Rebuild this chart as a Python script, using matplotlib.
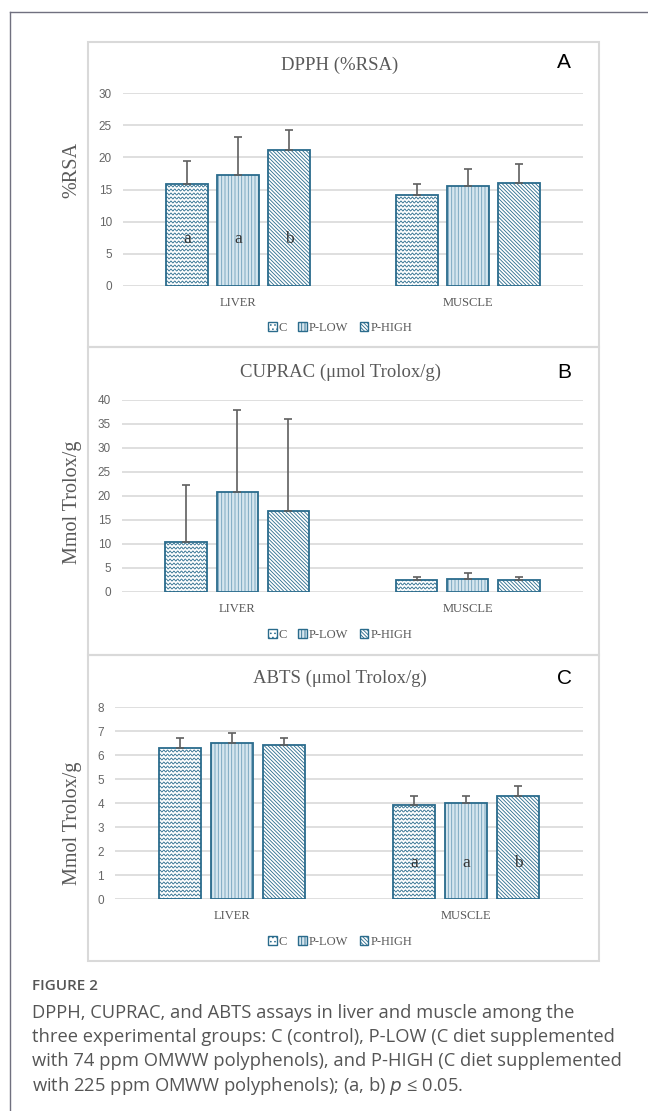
import numpy as np
import matplotlib
matplotlib.use('Agg')
import matplotlib.pyplot as plt
from matplotlib.patches import Rectangle, Patch
from matplotlib.lines import Line2D

W, H = 648, 1111

categories = ['LIVER', 'MUSCLE']
groups = ['C', 'P-LOW', 'P-HIGH']

# values per group (rows: C, P-LOW, P-HIGH), columns: LIVER, MUSCLE
dpph_means = [[15.8, 14.1], [17.2, 15.6], [21.1, 16.0]]
dpph_errs = [[3.6, 1.7], [6.0, 2.6], [3.1, 2.9]]
dpph_letters = [['a', ''], ['a', ''], ['b', '']]
dpph_ticks = [0, 5, 10, 15, 20, 25, 30]

cuprac_means = [[10.4, 2.4], [20.9, 2.8], [16.8, 2.4]]
cuprac_errs = [[11.9, 0.65], [17.0, 1.15], [19.2, 0.65]]
cuprac_letters = [['', ''], ['', ''], ['', '']]
cuprac_ticks = [0, 5, 10, 15, 20, 25, 30, 35, 40]

abts_means = [[6.3, 3.9], [6.5, 4.0], [6.4, 4.3]]
abts_errs = [[0.4, 0.4], [0.4, 0.3], [0.3, 0.4]]
abts_letters = [['', 'a'], ['', 'a'], ['', 'b']]
abts_ticks = [0, 1, 2, 3, 4, 5, 6, 7, 8]

titles = ['DPPH (%RSA)', 'CUPRAC (μmol Trolox/g)', 'ABTS (μmol Trolox/g)']
ylabels = ['%RSA', 'Mmol Trolox/g', 'Mmol Trolox/g']
panel_tags = ['A', 'B', 'C']

caption_head = 'FIGURE 2'
caption_lines = [
    'DPPH, CUPRAC, and ABTS assays in liver and muscle among the',
    'three experimental groups: C (control), P-LOW (C diet supplemented',
    'with 74 ppm OMWW polyphenols), and P-HIGH (C diet supplemented',
]
caption_last = 'with 225 ppm OMWW polyphenols); (a, b) $\\mathit{p}$ ≤ 0.05.'

TEAL = '#2a6b8c'
GRAY = '#595959'
GRID = '#d9d9d9'
SERIF = 'Liberation Serif'

plt.rcParams['hatch.linewidth'] = 0.6

fig = plt.figure(figsize=(W / 100, H / 100), dpi=100)
fig.patch.set_facecolor('white')

# outer frame (top and left)
fig.add_artist(Line2D([10 / W, 1.0], [1 - 12 / H, 1 - 12 / H], color='#70707f', lw=1.0))
fig.add_artist(Line2D([10 / W, 10 / W], [1 - 12 / H, 0.0], color='#70707f', lw=1.0))

layouts = [
    dict(box=(42, 347), left=123, y0=286, ytop=93, title=65, tag=63, leg=328, ylab=170),
    dict(box=(347, 655), left=122, y0=592, ytop=400, title=372, tag=372, leg=635, ylab=502),
    dict(box=(655, 961), left=115, y0=899, ytop=707, title=678, tag=678, leg=942, ylab=823),
]
panels = [
    (dpph_means, dpph_errs, dpph_letters, dpph_ticks),
    (cuprac_means, cuprac_errs, cuprac_letters, cuprac_ticks),
    (abts_means, abts_errs, abts_letters, abts_ticks),
]
letter_y = [7.25, None, 1.48]

styles = [
    dict(face='white', hatch=None, hcolor=TEAL),        # wave pattern added manually
    dict(face='#d6e6ef', hatch='|||||', hcolor='#6f9fba'),
    dict(face='white', hatch='\\' * 9, hcolor=TEAL),
]


def wave_fill(ax, rect, color):
    pos = ax.get_position()
    axw = pos.width * W
    axh = pos.height * H
    x0, x1 = ax.get_xlim()
    y0, y1 = ax.get_ylim()
    sx = (x1 - x0) / axw
    sy = (y1 - y0) / axh
    bx, by, bw, bh = rect.get_x(), rect.get_y(), rect.get_width(), rect.get_height()
    xs = np.linspace(bx, bx + bw, 240)
    period_px, amp_px, row_px = 3.8, 1.0, 4.0
    n = int(bh / sy / row_px) + 2
    for i in range(n):
        yb = by + i * row_px * sy
        ys = yb + amp_px * sy * np.sin(2 * np.pi * (xs - bx) / (period_px * sx))
        ln, = ax.plot(xs, ys, color=color, lw=0.6, zorder=2.5)
        ln.set_clip_path(rect)


width = 0.18
offsets = [-0.222, 0.0, 0.222]
x = np.arange(len(categories))

for p, (lay, (means, errs, letters, ticks)) in enumerate(zip(layouts, panels)):
    btop, bbot = lay['box']
    fig.add_artist(Rectangle((88 / W, 1 - bbot / H), (599 - 88) / W, (bbot - btop) / H,
                             transform=fig.transFigure, fill=False, edgecolor=GRID, lw=1.5))
    ax = fig.add_axes([lay['left'] / W, 1 - lay['y0'] / H,
                       (583 - lay['left']) / W, (lay['y0'] - lay['ytop']) / H])
    ax.set_xlim(-0.5, 1.5)
    ax.set_ylim(ticks[0], ticks[-1])
    ax.set_yticks(ticks)
    ax.set_axisbelow(True)
    ax.yaxis.grid(True, color=GRID, lw=1.2)
    for s in ax.spines.values():
        s.set_visible(False)
    ax.tick_params(length=0)
    ax.tick_params(axis='y', pad=8, labelsize=8.5, labelcolor='#666666')
    for lab in ax.get_yticklabels():
        lab.set_fontfamily('Liberation Sans')
    ax.set_xticks(x)
    ax.set_xticklabels(categories, fontfamily=SERIF, fontsize=9, color=GRAY)
    ax.tick_params(axis='x', pad=8)

    handles = []
    for g, st in enumerate(styles):
        xp = x + offsets[g]
        fill = ax.bar(xp, means[g], width, color=st['face'], edgecolor=st['hcolor'],
                      hatch=st['hatch'], linewidth=0, zorder=2)
        ax.bar(xp, means[g], width, fill=False, edgecolor=TEAL, linewidth=1.3, zorder=3)
        ax.errorbar(xp, means[g], yerr=[np.zeros(len(x)), errs[g]], fmt='none',
                    ecolor='#5f5f5f', elinewidth=1.2, capsize=3, capthick=1.2, zorder=4)
        if g == 0:
            for r in fill.patches:
                wave_fill(ax, r, TEAL)
        for i, t in enumerate(letters[g]):
            if t:
                ax.text(xp[i], letter_y[p], t, ha='center', va='center', fontsize=12.5,
                        fontfamily=SERIF, color='#333333', zorder=5)
        handles.append(Patch(facecolor=st['face'], edgecolor=TEAL, lw=1.0,
                             hatch=st['hatch'] if st['hatch'] else '....', label=groups[g]))

    fig.legend(handles=handles, loc='center', bbox_to_anchor=(340 / W, 1 - lay['leg'] / H),
               ncol=3, frameon=False, prop={'family': SERIF, 'size': 9}, labelcolor=GRAY,
               handlelength=0.7, handleheight=0.7, handletextpad=0.15, columnspacing=0.9)

    fig.text(340 / W, 1 - lay['title'] / H, titles[p], ha='center', va='center',
             fontsize=13.5, fontfamily=SERIF, color=GRAY)
    fig.text(564 / W, 1 - lay['tag'] / H, panel_tags[p], ha='center', va='center',
             fontsize=15, fontfamily='Liberation Sans', color='black')
    fig.text(72 / W, 1 - lay['ylab'] / H, ylabels[p], ha='center', va='center', rotation=90,
             fontsize=14.5, fontfamily=SERIF, color=GRAY)

# caption
fig.text(32 / W, 1 - 986 / H, caption_head, ha='left', va='center', fontsize=11,
         fontfamily='Open Sans', fontweight='semibold', color='#555555')
cap_y = [1013, 1037, 1061]
for yy, line in zip(cap_y, caption_lines):
    fig.text(32 / W, 1 - yy / H, line, ha='left', va='center', fontsize=13.2,
             fontfamily='Open Sans', color='#555555')
fig.text(32 / W, 1 - 1086 / H, caption_last, ha='left', va='center', fontsize=13.2,
         fontfamily=['Open Sans', 'DejaVu Sans'], color='#555555')

fig.savefig('out.png', dpi=100, facecolor='white')
